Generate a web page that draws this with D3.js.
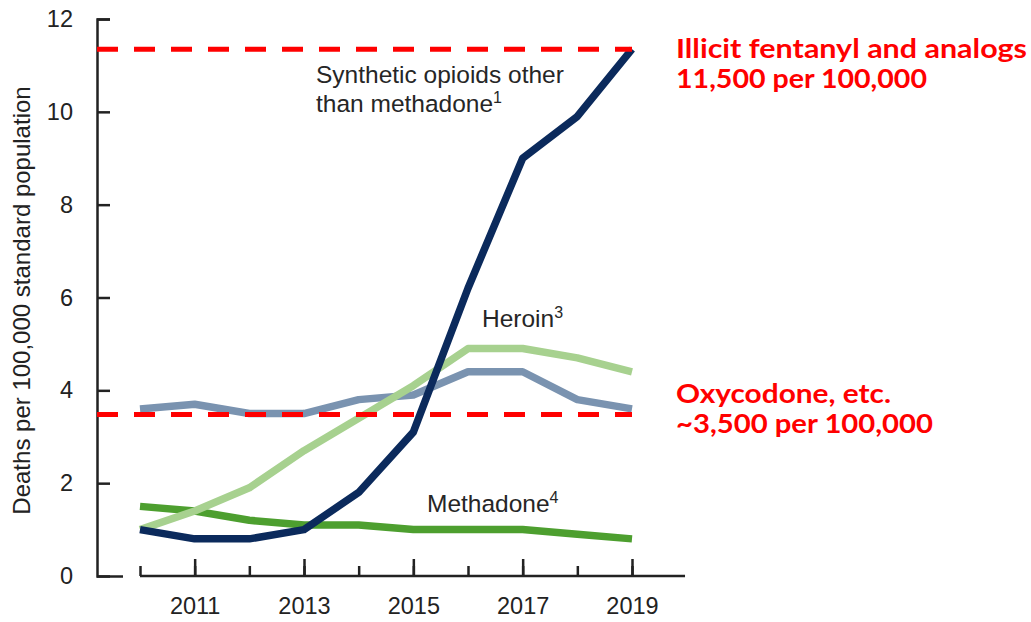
<!DOCTYPE html>
<html lang="en">
<head>
<meta charset="utf-8">
<script src="https://d3js.org/d3.v7.min.js"></script>
<style>
  body { margin: 0; background: #fff; }
  svg text { font-family: Arial, "Liberation Sans", sans-serif; }
</style>
</head>
<body>
<div id="chart"></div>
<script>
// data
var years = [2010, 2011, 2012, 2013, 2014, 2015, 2016, 2017, 2018, 2019];
var synthetic = [1.0, 0.8, 0.8, 1.0, 1.8, 3.1, 6.2, 9.0, 9.9, 11.35];
var heroin    = [1.0, 1.4, 1.9, 2.7, 3.4, 4.1, 4.9, 4.9, 4.7, 4.4];
var natural   = [3.6, 3.7, 3.5, 3.5, 3.8, 3.9, 4.4, 4.4, 3.8, 3.6];
var methadone = [1.5, 1.4, 1.2, 1.1, 1.1, 1.0, 1.0, 1.0, 0.9, 0.8];
var yTicks = [0, 2, 4, 6, 8, 10, 12];
var majorYears = [2011, 2013, 2015, 2017, 2019];
var refLevels = [11.35, 3.48];

var width = 1031, height = 622;
var axisX = 97, axisY = 576;

var svg = d3.select("#chart").append("svg")
    .attr("width", width)
    .attr("height", height);

var x = d3.scaleLinear().domain([2010, 2019]).range([140, 632]);
var y = d3.scaleLinear().domain([0, 12]).range([axisY, 19]);

// y axis, ticks pointing inward
var yAxis = svg.append("g")
    .attr("transform", "translate(" + axisX + ",0)")
    .call(d3.axisLeft(y).tickValues(yTicks).tickSize(-13).tickPadding(24));
yAxis.select(".domain").attr("stroke", "#222").attr("stroke-width", 2.5);
yAxis.selectAll(".tick line").attr("stroke", "#222").attr("stroke-width", 2.5)
    .attr("x2", function(d) { return d === 0 ? 26 : 13; });
yAxis.selectAll(".tick text").attr("font-size", 23.5).attr("fill", "#222")
    .style("font-family", "Arial, 'Liberation Sans', sans-serif");

// x axis: minor ticks every year, major on odd years
var xMinor = svg.append("g")
    .attr("transform", "translate(0," + axisY + ")")
    .call(d3.axisBottom(x).tickValues(years).tickSize(-10).tickFormat(""));
xMinor.select(".domain").remove();
xMinor.selectAll(".tick line").attr("stroke", "#222").attr("stroke-width", 2.5);

var xAxis = svg.append("g")
    .attr("transform", "translate(0," + axisY + ")")
    .call(d3.axisBottom(x).tickValues(majorYears).tickSize(-17).tickPadding(21)
        .tickFormat(d3.format("d")));
xAxis.select(".domain").remove();
xAxis.selectAll(".tick line").attr("stroke", "#222").attr("stroke-width", 2.5);
xAxis.selectAll(".tick text").attr("font-size", 23.5).attr("fill", "#222")
    .style("font-family", "Arial, 'Liberation Sans', sans-serif");

svg.append("line")
    .attr("x1", x(2010)).attr("x2", x(2019.97))
    .attr("y1", axisY).attr("y2", axisY)
    .attr("stroke", "#222").attr("stroke-width", 2.5);

// y axis title
svg.append("text")
    .attr("transform", "translate(30," + ((y(0) + y(12)) / 2 + 3) + ") rotate(-90)")
    .attr("text-anchor", "middle")
    .attr("font-size", 24)
    .attr("fill", "#222")
    .text("Deaths per 100,000 standard population");

// series lines
var line = d3.line()
    .x(function(d, i) { return x(years[i]); })
    .y(function(d) { return y(d); });

var series = [
  { values: natural,   color: "#7a93b0" },
  { values: methadone, color: "#4d9f2f" },
  { values: heroin,    color: "#a7d18f" },
  { values: synthetic, color: "#0b2a5c" }
];

svg.selectAll(".series")
    .data(series)
    .enter().append("path")
    .attr("class", "series")
    .attr("d", function(d) { return line(d.values); })
    .attr("fill", "none")
    .attr("stroke", function(d) { return d.color; })
    .attr("stroke-width", 7.5)
    .attr("stroke-linejoin", "round");

// red dashed reference lines
svg.selectAll(".ref")
    .data(refLevels)
    .enter().append("line")
    .attr("class", "ref")
    .attr("x1", axisX).attr("x2", x(2019))
    .attr("y1", function(d) { return y(d); })
    .attr("y2", function(d) { return y(d); })
    .attr("stroke", "#ff0000")
    .attr("stroke-width", 5)
    .attr("stroke-dasharray", "21,16");

// series annotations
function label(px, py, lines, sup) {
  var t = svg.append("text")
      .attr("x", px).attr("y", py)
      .attr("font-size", 24.5)
      .attr("fill", "#262626");
  lines.forEach(function(s, i) {
    t.append("tspan").attr("x", px).attr("dy", i === 0 ? 0 : 29).text(s);
    if (i === lines.length - 1) {
      t.append("tspan").attr("dy", -9).attr("font-size", 16).text(sup);
    }
  });
}
label(316, 83, ["Synthetic opioids other", "than methadone"], "1");
label(482, 327, ["Heroin"], "3");
label(427, 512, ["Methadone"], "4");

// red callouts
var callouts = [
  { lines: ["Illicit fentanyl and analogs", "11,500 per 100,000"], y: 58, w: [351, 251] },
  { lines: ["Oxycodone, etc.", "~3,500 per 100,000"], y: 403, w: [215, 257] }
];
callouts.forEach(function(c) {
  c.lines.forEach(function(s, i) {
    svg.append("text")
        .attr("x", 676)
        .attr("y", c.y + i * 30)
        .attr("font-size", 27)
        .attr("font-weight", "bold")
        .attr("fill", "#ff0000")
        .style("font-family", "Lato, 'Open Sans', sans-serif")
        .attr("textLength", c.w[i])
        .attr("lengthAdjust", "spacingAndGlyphs")
        .text(s);
  });
});
</script>
</body>
</html>
